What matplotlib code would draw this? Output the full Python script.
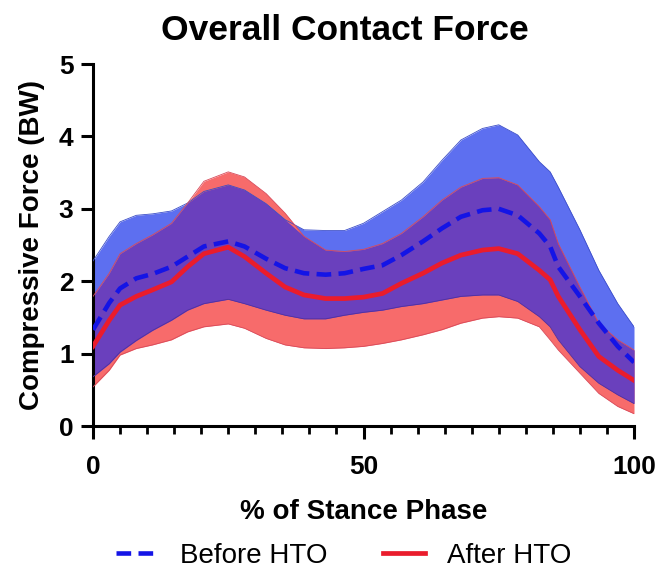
import numpy as np
import matplotlib
matplotlib.use("Agg")
import matplotlib.pyplot as plt
from matplotlib.ticker import MultipleLocator

plt.rcParams['font.family'] = ['Liberation Sans', 'DejaVu Sans']

# % of stance phase sample points
x = [0, 3, 5, 8, 11, 14.5, 17.5, 20.5, 25, 28, 32, 35.5, 39, 43, 46.5, 50,
     53.5, 57, 61, 64.5, 68, 72, 75, 78.5, 82.5, 84.5, 86, 90, 93.5, 97, 100]

before_mean = [1.33, 1.70, 1.90, 2.04, 2.10, 2.20, 2.34, 2.48, 2.55, 2.48, 2.31, 2.18, 2.11, 2.09, 2.11, 2.17,
               2.22, 2.36, 2.55, 2.73, 2.89, 2.98, 3.00, 2.91, 2.66, 2.48, 2.20, 1.79, 1.42, 1.10, 0.88]
before_upper = [2.28, 2.62, 2.82, 2.91, 2.93, 2.97, 3.08, 3.24, 3.33, 3.26, 3.07, 2.85, 2.71, 2.70, 2.70, 2.80,
                2.96, 3.12, 3.37, 3.67, 3.95, 4.11, 4.16, 4.02, 3.65, 3.51, 3.30, 2.71, 2.15, 1.69, 1.37]
before_lower = [0.68, 0.86, 1.02, 1.18, 1.32, 1.46, 1.60, 1.69, 1.75, 1.69, 1.60, 1.53, 1.48, 1.48, 1.53, 1.57,
                1.60, 1.65, 1.69, 1.74, 1.79, 1.81, 1.81, 1.72, 1.51, 1.37, 1.19, 0.82, 0.59, 0.43, 0.31]

after_mean = [1.10, 1.46, 1.67, 1.79, 1.88, 1.99, 2.20, 2.38, 2.47, 2.34, 2.11, 1.92, 1.81, 1.76, 1.76, 1.78,
              1.83, 1.97, 2.11, 2.25, 2.36, 2.43, 2.45, 2.38, 2.15, 2.02, 1.79, 1.33, 0.96, 0.77, 0.63]
after_upper = [1.79, 2.11, 2.38, 2.52, 2.64, 2.80, 3.08, 3.38, 3.51, 3.44, 3.21, 2.94, 2.62, 2.43, 2.41, 2.44,
               2.52, 2.66, 2.89, 3.12, 3.30, 3.42, 3.43, 3.33, 3.03, 2.85, 2.52, 1.92, 1.42, 1.19, 1.05]
after_lower = [0.54, 0.77, 0.98, 1.07, 1.12, 1.19, 1.30, 1.37, 1.41, 1.35, 1.21, 1.12, 1.08, 1.07, 1.08, 1.10,
               1.14, 1.19, 1.26, 1.33, 1.42, 1.49, 1.51, 1.49, 1.37, 1.19, 1.05, 0.73, 0.45, 0.27, 0.17]

title = "Overall Contact Force"
xlabel = "% of Stance Phase"
ylabel = "Compressive Force (BW)"
labels = ["Before HTO", "After HTO"]

xa = np.array(x, float)
bm, bu, bl = map(np.array, (before_mean, before_upper, before_lower))
am, au, al = map(np.array, (after_mean, after_upper, after_lower))

fig = plt.figure(figsize=(6.61, 5.74), dpi=100)
ax = fig.add_axes([93/661, 148/574, 541/661, 362/574])

blue_fill = '#5d6ff0'
red_fill = '#f76b6b'
purple = '#6a40bd'

ax.fill_between(xa, bl, bu, color=blue_fill, lw=0, zorder=1)
ax.fill_between(xa, al, au, color=red_fill, lw=0, zorder=1)
lo = np.maximum(bl, al)
hi = np.minimum(bu, au)
ax.fill_between(xa, lo, hi, where=hi > lo, color=purple, lw=0, zorder=2, interpolate=True)
for arr, c in ((bu, '#3a4cc8'), (bl, '#5030a0'), (au, '#d84a5a'), (al, '#d84a5a')):
    ax.plot(xa, arr, color=c, lw=0.6, zorder=3)

l1, = ax.plot(xa, bm, color='#1414e6', lw=3.3, ls=(0, (3.2, 1.6)), zorder=4,
              label=labels[0], solid_joinstyle='round', dash_joinstyle='round')
l2, = ax.plot(xa, am, color='#ea1c2c', lw=3.4, zorder=4, label=labels[1],
              solid_joinstyle='round')

ax.set_xlim(0, 100)
ax.set_ylim(0, 5)
ax.spines['top'].set_visible(False)
ax.spines['right'].set_visible(False)
for s in ('left', 'bottom'):
    ax.spines[s].set_linewidth(2.2)
ax.set_xticks([0, 50, 100])
ax.xaxis.set_minor_locator(MultipleLocator(5))
ax.set_yticks([0, 1, 2, 3, 4, 5])
ax.tick_params(axis='both', which='major', length=9, width=2.2, labelsize=19, pad=5)
ax.tick_params(axis='x', which='minor', length=6, width=2.0)
ax.tick_params(axis='x', which='major', pad=12)
for lab in ax.get_xticklabels() + ax.get_yticklabels():
    lab.set_fontweight('bold')

ax.set_xlabel(xlabel, fontsize=20, fontweight='bold', labelpad=14)
ax.set_ylabel(ylabel, fontsize=20, fontweight='bold', labelpad=10)
fig.text(0.522, 0.947, title, fontsize=25.5, fontweight='bold', ha='center', va='center')

fig.legend(handles=[l1, l2], labels=labels, loc='center', bbox_to_anchor=(0.52, 0.032),
           ncol=2, frameon=False, fontsize=20, handlelength=1.5, columnspacing=2.0,
           handletextpad=0.8)

fig.savefig('out.png', dpi=100)
